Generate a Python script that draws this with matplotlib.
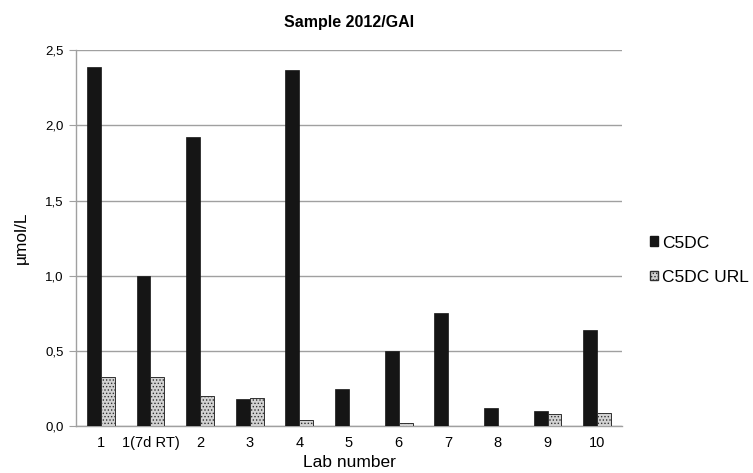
import numpy as np
import matplotlib
matplotlib.use("Agg")
import matplotlib.pyplot as plt
import matplotlib.ticker as ticker
from matplotlib.patches import Patch

plt.rcParams['font.family'] = ['Liberation Sans', 'DejaVu Sans']
plt.rcParams['hatch.color'] = '#707070'
plt.rcParams['hatch.linewidth'] = 0.6

labs = ['1', '1(7d RT)', '2', '3', '4', '5', '6', '7', '8', '9', '10']
c5dc = [2.39, 1.00, 1.92, 0.18, 2.37, 0.25, 0.50, 0.75, 0.12, 0.10, 0.64]
c5dc_url = [0.33, 0.33, 0.20, 0.19, 0.04, 0.0, 0.02, 0.0, 0.0, 0.08, 0.09]

fig = plt.figure(figsize=(7.53, 4.73), dpi=100)
ax = fig.add_axes([0.101, 0.099, 0.725, 0.795])

x = np.arange(len(labs))
w = 0.28
ax.bar(x - w / 2, c5dc, width=w, color='#151515', edgecolor='#151515', linewidth=0.5, zorder=3)
url = np.array(c5dc_url)
ax.bar(x[url > 0] + w / 2, url[url > 0], width=w, color='#d2d2d2', edgecolor='#303030',
       linewidth=0.7, hatch='.....', zorder=3)

ax.set_xlim(-0.5, len(labs) - 0.5)
ax.set_ylim(0, 2.5)
ax.set_yticks(np.arange(0, 2.51, 0.5))
ax.yaxis.set_major_formatter(ticker.FuncFormatter(lambda v, p: f'{v:.1f}'.replace('.', ',')))
ax.set_xticks(x)
ax.set_xticklabels(labs)
ax.grid(axis='y', color='#a0a0a0', linewidth=1.0, zorder=0)

for s in ['top', 'right']:
    ax.spines[s].set_visible(False)
for s in ['left', 'bottom']:
    ax.spines[s].set_color('#a0a0a0')
    ax.spines[s].set_linewidth(1.0)
ax.tick_params(axis='y', length=5, color='#a0a0a0', labelsize=9.5, pad=4)
ax.tick_params(axis='x', length=0, labelsize=10.5, pad=7)

ax.set_title('Sample 2012/GAI', fontsize=11.5, fontweight='bold', pad=17)
ax.set_ylabel('µmol/L', fontsize=12.5, labelpad=12)
ax.set_xlabel('Lab number', fontsize=12.5, labelpad=4)

handles = [Patch(facecolor='#151515', edgecolor='#151515', label='C5DC'),
           Patch(facecolor='#d2d2d2', edgecolor='#303030', hatch='.....', label='C5DC URL')]
fig.legend(handles=handles, loc='center left', bbox_to_anchor=(0.842, 0.45), frameon=False,
           fontsize=12.5, handlelength=0.5, handleheight=0.5, handletextpad=0.2, labelspacing=1.1)

fig.savefig('out.png', dpi=100)
